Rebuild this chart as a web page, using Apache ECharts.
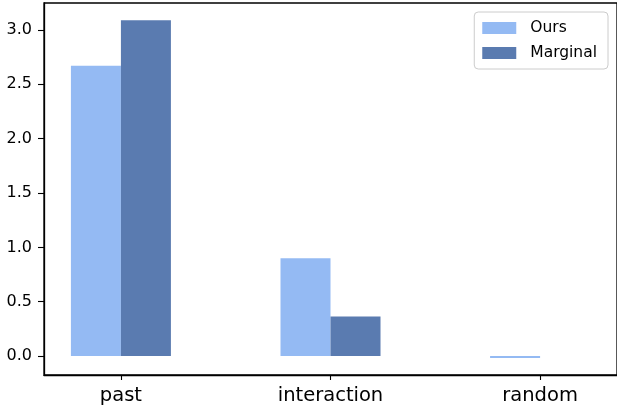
<!DOCTYPE html>
<html>
<head>
<meta charset="utf-8">
<script src="https://cdn.jsdelivr.net/npm/echarts@6/dist/echarts.min.js"></script>
<style>
  html, body { margin: 0; padding: 0; background: #fff; }
  #chart { width: 617px; height: 406px; }
</style>
</head>
<body>
<div id="chart"></div>
<script>
// Categories and the two series compared in each group
const categories = ['past', 'interaction', 'random'];
const oursValues = [2.67, 0.90, -0.018];
const marginalValues = [3.09, 0.365, 0.0];
const yTicks = [0, 0.5, 1.0, 1.5, 2.0, 2.5, 3.0];

const FONT = 'DejaVu Sans';
const toPairs = vals => vals.map((v, i) => [i, v]);

const chart = echarts.init(document.getElementById('chart'), null, { renderer: 'canvas' });
chart.setOption({
  animation: false,
  backgroundColor: '#ffffff',
  grid: {
    left: 44, right: -1, top: 3, bottom: 30,
    show: true, borderColor: '#000', borderWidth: 1.3, backgroundColor: 'transparent'
  },
  legend: {
    orient: 'vertical',
    right: 9, top: 12,
    icon: 'rect',
    itemWidth: 34, itemHeight: 12, itemGap: 9,
    padding: [8, 11, 8, 8],
    borderColor: '#cccccc', borderWidth: 1, borderRadius: 4,
    backgroundColor: 'rgba(255,255,255,0.8)',
    textStyle: { fontFamily: FONT, fontSize: 15.5, color: '#000', padding: [0, 0, 0, 9] },
    data: ['Ours', 'Marginal']
  },
  xAxis: {
    type: 'value',
    min: -0.367, max: 2.367,
    splitLine: { show: false },
    axisLine: { show: true, onZero: false, lineStyle: { color: '#000', width: 1.3 } },
    axisTick: { show: true, length: 5, customValues: [0, 1, 2], lineStyle: { color: '#000', width: 1.1 } },
    axisLabel: {
      customValues: [0, 1, 2],
      formatter: v => categories[Math.round(v)],
      fontFamily: FONT, fontSize: 19.5, color: '#000', margin: 11
    }
  },
  yAxis: {
    type: 'value',
    min: -0.174, max: 3.248,
    splitLine: { show: false },
    axisLine: { show: true, onZero: false, lineStyle: { color: '#000', width: 1.3 } },
    axisTick: { show: true, length: 6, customValues: yTicks, lineStyle: { color: '#000', width: 1.1 } },
    axisLabel: {
      customValues: yTicks,
      formatter: v => v.toFixed(1),
      fontFamily: FONT, fontSize: 16, color: '#000', margin: 12
    }
  },
  series: [
    {
      name: 'Ours', type: 'bar',
      data: toPairs(oursValues),
      barWidth: 50, barGap: '0%',
      itemStyle: { color: '#94baf3' }
    },
    {
      name: 'Marginal', type: 'bar',
      data: toPairs(marginalValues),
      barWidth: 50, barGap: '0%',
      itemStyle: { color: '#5a7bb0' }
    }
  ]
});
</script>
</body>
</html>
